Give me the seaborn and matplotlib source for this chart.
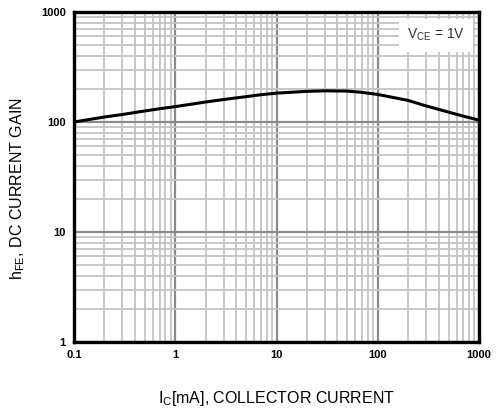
import matplotlib
matplotlib.use("Agg")
import matplotlib.pyplot as plt
import seaborn as sns
import pandas as pd
from matplotlib.ticker import LogLocator, FixedLocator, FixedFormatter, NullFormatter

# Data
collector_current_ma = [0.1, 0.2, 0.3, 0.5, 0.7, 1, 2, 3, 5, 7, 10, 20, 30, 50, 70,
                        100, 200, 300, 500, 700, 1000]
dc_current_gain = [100, 111, 117, 126, 132, 138, 152, 160, 170, 177, 183, 190, 192, 191, 186,
                   178, 157, 140, 123, 113, 104]
x_ticks = [0.1, 1, 10, 100, 1000]
x_tick_labels = ["0.1", "1", "10", "100", "1000"]
y_ticks = [1, 10, 100, 1000]
y_tick_labels = ["1", "10", "100", "1000"]

sns.set_style("white")
plt.rcParams['font.family'] = ['Liberation Sans', 'DejaVu Sans']
plt.rcParams['mathtext.fontset'] = 'custom'
plt.rcParams['mathtext.rm'] = 'Liberation Sans'
plt.rcParams['mathtext.it'] = 'Liberation Sans'
plt.rcParams['text.color'] = 'black'
plt.rcParams['axes.labelcolor'] = 'black'
plt.rcParams['xtick.color'] = 'black'
plt.rcParams['ytick.color'] = 'black'

df = pd.DataFrame({"ic": collector_current_ma, "hfe": dc_current_gain})

fig = plt.figure(figsize=(4.97, 4.12), dpi=100)
ax = fig.add_axes([74/497, 70/412, 405/497, 330/412])

ax.set_xscale("log")
ax.set_yscale("log")
ax.set_xlim(0.1, 1000)
ax.set_ylim(1, 1000)

ax.xaxis.set_minor_locator(LogLocator(base=10, subs=range(2, 10), numticks=20))
ax.yaxis.set_minor_locator(LogLocator(base=10, subs=range(2, 10), numticks=20))
ax.xaxis.set_minor_formatter(NullFormatter())
ax.yaxis.set_minor_formatter(NullFormatter())
ax.xaxis.set_major_locator(FixedLocator(x_ticks))
ax.xaxis.set_major_formatter(FixedFormatter(x_tick_labels))
ax.yaxis.set_major_locator(FixedLocator(y_ticks))
ax.yaxis.set_major_formatter(FixedFormatter(y_tick_labels))

ax.grid(True, which="minor", color="#c4c4c4", lw=1.3, zorder=0)
ax.grid(True, which="major", color="#8a8a8a", lw=1.6, zorder=0)
ax.set_axisbelow(True)

sns.lineplot(data=df, x="ic", y="hfe", ax=ax, color="black", lw=2.2, zorder=3)

for s in ax.spines.values():
    s.set_visible(True)
    s.set_color("black")
    s.set_linewidth(2.4)
    s.set_zorder(5)

ax.tick_params(which="both", length=0, pad=6, colors="black")
for lab in ax.get_xticklabels() + ax.get_yticklabels():
    lab.set_fontweight("bold")
    lab.set_fontsize(8)
    lab.set_color("black")

ax.set_xlabel(r"I$_\mathregular{C}$[mA], COLLECTOR CURRENT", fontsize=11.5, color="black")
ax.set_ylabel(r"h$_\mathregular{FE}$, DC CURRENT GAIN", fontsize=11.5, color="black")
ax.xaxis.set_label_coords(0.5, -0.142)
ax.yaxis.set_label_coords(-0.115, 0.464)

ax.text(0.894, 0.93, r"V$_\mathregular{CE}$ = 1V", transform=ax.transAxes,
        ha="center", va="center", fontsize=10, color="#333333", zorder=6,
        bbox=dict(facecolor="white", edgecolor="none", boxstyle="square,pad=0.6"))

fig.savefig("out.png", dpi=100)
